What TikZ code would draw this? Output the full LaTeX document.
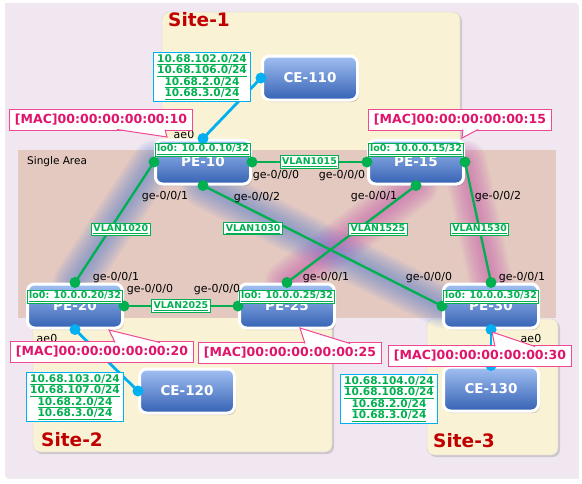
\documentclass[tikz,border=0pt]{standalone}
\usepackage{fontspec}
\setmainfont{DejaVu Sans}
\usetikzlibrary{positioning,shadows,backgrounds}
\definecolor{lavender}{HTML}{F1E7F1}
\definecolor{sitebg}{HTML}{FAF2D5}
\definecolor{areabg}{HTML}{E4C9C0}
\definecolor{sitered}{HTML}{C00000}
\definecolor{linkgreen}{HTML}{00B050}
\definecolor{linkcyan}{HTML}{00B0F0}
\definecolor{macline}{HTML}{F04894}
\definecolor{mactext}{HTML}{E0146A}
\definecolor{petop}{HTML}{A2C0F2}
\definecolor{pebot}{HTML}{3562B4}
\definecolor{glowb}{HTML}{5F84D6}
\definecolor{glowp}{HTML}{C85FB0}
\tikzstyle{router}=[rectangle,rounded corners=7,draw=white,line width=3,top color=petop,bottom color=pebot,minimum width=95,minimum height=44,text=white,font=\fontsize{13.5}{14}\selectfont\bfseries,drop shadow={opacity=.35,shadow xshift=1.5pt,shadow yshift=-2pt}]
\tikzstyle{gdot}=[circle,fill=linkgreen,inner sep=0,minimum size=11]
\tikzstyle{cdot}=[gdot,fill=linkcyan]
\tikzstyle{link}=[linkgreen,line width=2.3]
\tikzstyle{celink}=[linkcyan,line width=2.8]
\tikzstyle{vlan}=[rectangle,draw=linkgreen,fill=white,line width=1,inner xsep=2,inner ysep=1.5,text=linkgreen,font=\fontsize{9.4}{10}\selectfont\bfseries]
\tikzstyle{loback}=[vlan,font=\fontsize{9.5}{10}\selectfont\bfseries]
\tikzstyle{netbox}=[rectangle,draw=linkcyan,fill=white,line width=1,inner xsep=4,inner ysep=2,align=center,text=linkgreen,font=\fontsize{10.6}{11.6}\selectfont\bfseries]
\tikzstyle{mac}=[rectangle,draw=macline,fill=white,line width=1,inner xsep=5,minimum height=21,text=mactext,font=\fontsize{12.5}{14}\selectfont\bfseries]
\tikzstyle{macptr}=[draw=macline,fill=white,line width=1]
\tikzstyle{ifc}=[inner sep=0,font=\fontsize{11}{12}\selectfont]
\tikzstyle{site}=[rounded corners=7,fill=sitebg,draw=black!18,drop shadow={opacity=.3,shadow xshift=2pt,shadow yshift=-2pt}]
\tikzstyle{sitename}=[anchor=west,inner sep=0,text=sitered,font=\fontsize{18.5}{20}\selectfont\bfseries]
\tikzstyle{glow}=[line cap=round,opacity=.055]

\begin{document}
\begin{tikzpicture}[x=1pt,y=-1pt]
	\useasboundingbox (0,0) rectangle (582,483);
	\node[router]	(pe10)	at (203,162)	{PE-10};
	\node[router]	(pe15)	[right=115pt of pe10]	{PE-15};
	\node[router]	(pe20)	at (75,306)	{PE-20};
	\node[router]	(pe25)	[right=114pt of pe20]	{PE-25};
	\node[router]	(pe30)	[right=106pt of pe25]	{PE-30};
	\node[router]	(ce110)	at (310,78)	{CE-110};
	\node[router]	(ce120)	at (187,391)	{CE-120};
	\node[router]	(ce130)	[below=36pt of pe30]	{CE-130};

	\begin{scope}[on background layer]
		\fill[lavender,drop shadow={opacity=.15,shadow xshift=2pt,shadow yshift=-2pt}] (5,3) rectangle (577,477);
		\path[site] (162,12) rectangle (460,165);
		\path[site] (33,300) rectangle (332,452);
		\path[site] (427,319) rectangle (558,455);
		\fill[areabg] (18,150) rectangle (556,318);
		\foreach \w in {44,41,...,5} {
			\draw[glow,glowb,line width=\w] (pe10.west) -- (pe20.north);
			\draw[glow,glowb,line width=\w] (pe10.south) -- (pe30.west);
			\draw[glow,glowp,line width=\w] (pe15.south) -- (pe25.north);
			\draw[glow,glowp,line width=\w] (pe15.east) -- (pe30.north);
		}
	\end{scope}

	\node[anchor=west,inner sep=0,font=\fontsize{10.5}{12}\selectfont] (area) at (27,162) {Single Area};
	\node[sitename] (site1) at (168,20) {Site-1};
	\node[sitename] (site2) at (41,440) {Site-2};
	\node[sitename] (site3) at (433,441) {Site-3};

	\draw[link] (pe10.east) -- node[vlan] {\underline{VLAN1015}} (pe15.west);
	\draw[link] (pe10.west) -- node[vlan,pos=.56,xshift=11pt] {\underline{VLAN1020}} (pe20.north);
	\draw[link] (pe10.south) -- node[vlan,pos=.21,yshift=-18pt] {\underline{VLAN1030}} (pe30.west);
	\draw[link] (pe15.south) -- node[vlan,pos=.45,xshift=20pt] {\underline{VLAN1525}} (pe25.north);
	\draw[link] (pe15.east) -- node[vlan,pos=.56] {\underline{VLAN1530}} (pe30.north);
	\draw[link] (pe20.east) -- node[vlan] {\underline{VLAN2025}} (pe25.west);

	\draw[celink] (pe10.north) -- (ce110.west);
	\draw[celink] (pe20.south) -- (ce120.west);
	\draw[celink] (pe30.south) -- (ce130.north);

	\node[gdot] at (pe10.east) {};
	\node[gdot] at (pe10.west) {};
	\node[gdot] at (pe10.south) {};
	\node[gdot] at (pe15.west) {};
	\node[gdot] at (pe15.south) {};
	\node[gdot] at (pe15.east) {};
	\node[gdot] at (pe20.north) {};
	\node[gdot] at (pe20.east) {};
	\node[gdot] at (pe25.west) {};
	\node[gdot] at (pe25.north) {};
	\node[gdot] at (pe30.west) {};
	\node[gdot] at (pe30.north) {};
	\node[cdot] at (pe10.north) {};
	\node[cdot] at (ce110.west) {};
	\node[cdot] at (pe20.south) {};
	\node[cdot] at (ce120.west) {};
	\node[cdot] at (pe30.south) {};
	\node[cdot] at (ce130.north) {};

	\node[loback] (lo10) [below=4pt of pe10.north] {\underline{lo0: 10.0.0.10/32}};
	\node[loback] (lo15) [below=4pt of pe15.north] {\underline{lo0: 10.0.0.15/32}};
	\node[loback] (lo20) [below=7pt of pe20.north] {\underline{lo0: 10.0.0.20/32}};
	\node[loback] (lo25) [below=7pt of pe25.north] {\underline{lo0: 10.0.0.25/32}};
	\node[loback] (lo30) [below=7pt of pe30.north] {\underline{lo0: 10.0.0.30/32}};

	\node[ifc] (pe10ae) at (184,134) {ae0};
	\node[ifc] (pe10g0) at (276,176) {ge-0/0/0};
	\node[ifc] (pe10g1) at (165,197) {ge-0/0/1};
	\node[ifc] (pe10g2) at (257,198) {ge-0/0/2};
	\node[ifc] (pe15g0) at (342,176) {ge-0/0/0};
	\node[ifc] (pe15g1) at (374,197) {ge-0/0/1};
	\node[ifc] (pe15g2) at (498,197) {ge-0/0/2};
	\node[ifc] (pe20g1) at (116,278) {ge-0/0/1};
	\node[ifc] (pe20g0) at (150,290) {ge-0/0/0};
	\node[ifc] (pe20ae) at (47,338) {ae0};
	\node[ifc] (pe25g0) at (217,290) {ge-0/0/0};
	\node[ifc] (pe25g1) at (326,278) {ge-0/0/1};
	\node[ifc] (pe30g0) at (429,278) {ge-0/0/0};
	\node[ifc] (pe30g1) at (522,278) {ge-0/0/1};
	\node[ifc] (pe30ae) at (531,338) {ae0};

	\node[netbox] (net1) at (202,77) {\underline{10.68.102.0/24}\\\underline{10.68.106.0/24}\\\underline{10.68.2.0/24}\\\underline{10.68.3.0/24}};
	\node[netbox] (net2) at (75,397) {\underline{10.68.103.0/24}\\\underline{10.68.107.0/24}\\\underline{10.68.2.0/24}\\\underline{10.68.3.0/24}};
	\node[netbox] (net3) at (389,399) {\underline{10.68.104.0/24}\\\underline{10.68.108.0/24}\\\underline{10.68.2.0/24}\\\underline{10.68.3.0/24}};

	\node[mac] (mac10) at (101,120) {[MAC]00:00:00:00:00:10};
	\node[mac] (mac15) at (460,120) {[MAC]00:00:00:00:00:15};
	\node[mac] (mac20) at (102,352) {[MAC]00:00:00:00:00:20};
	\node[mac] (mac25) at (290,353) {[MAC]00:00:00:00:00:25};
	\node[mac] (mac30) at (480,356) {[MAC]00:00:00:00:00:30};
	\coordinate (t10) at (167,137);
	\coordinate (t15) at (462,138);
	\coordinate (t20) at (109,330);
	\coordinate (t25) at (300,328);
	\coordinate (t30) at (492,332);
	\draw[macptr] ([xshift=16pt,yshift=1.5pt]mac10.south) -- (t10) -- ([xshift=64pt,yshift=1.5pt]mac10.south);
	\draw[macptr] ([xshift=3pt,yshift=1.5pt]mac15.south) -- (t15) -- ([xshift=18pt,yshift=1.5pt]mac15.south);
	\draw[macptr] ([xshift=13pt,yshift=-1.5pt]mac20.north) -- (t20) -- ([xshift=58pt,yshift=-1.5pt]mac20.north);
	\draw[macptr] ([xshift=15pt,yshift=-1.5pt]mac25.north) -- (t25) -- ([xshift=60pt,yshift=-1.5pt]mac25.north);
	\draw[macptr] ([xshift=15pt,yshift=-1.5pt]mac30.north) -- (t30) -- ([xshift=55pt,yshift=-1.5pt]mac30.north);
\end{tikzpicture}
\end{document}
